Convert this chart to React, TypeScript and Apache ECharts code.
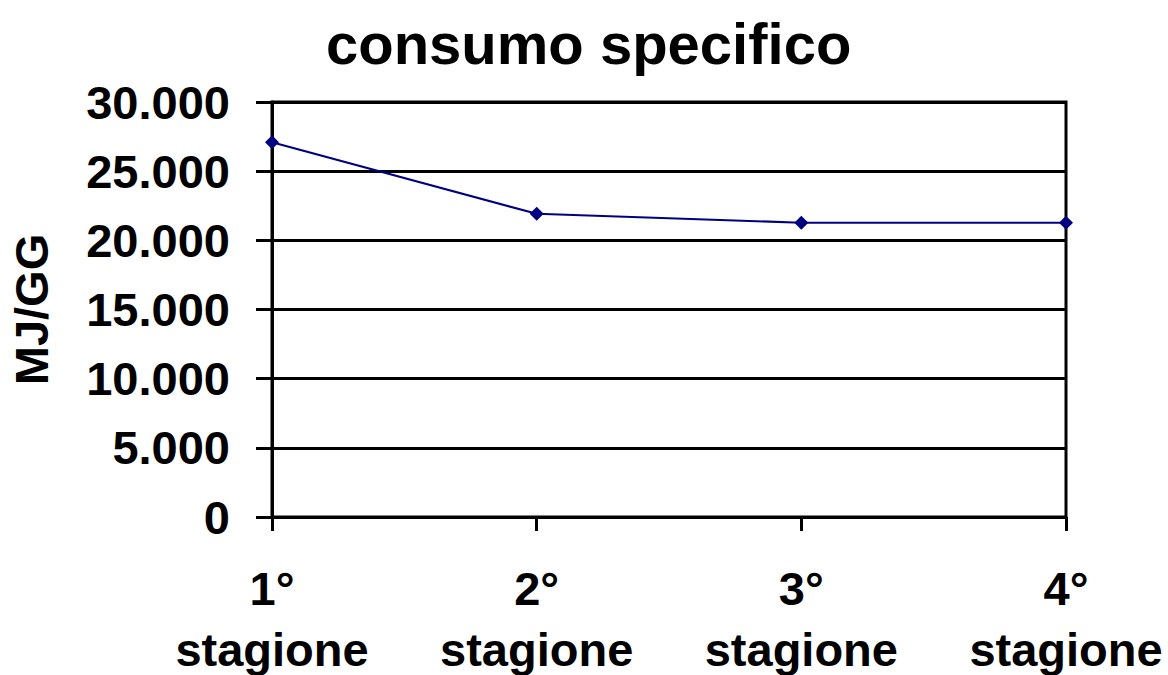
import React, { useEffect, useRef } from "react";
import * as echarts from "echarts";

const categories = ["1°\nstagione", "2°\nstagione", "3°\nstagione", "4°\nstagione"];
const consumo = [27090, 21920, 21270, 21270];
const yMin = 0;
const yMax = 30000;
const yStep = 5000;

const FONT = "'Liberation Sans', Arial, sans-serif";

function fmt(v: number): string {
  return String(Math.round(v)).replace(/\B(?=(\d{3})+(?!\d))/g, ".");
}

export default function App() {
  const ref = useRef<HTMLDivElement>(null);
  useEffect(() => {
    if (!ref.current) return;
    const chart = echarts.init(ref.current, undefined, { renderer: "svg" });
    chart.setOption({
      animation: false,
      backgroundColor: "#ffffff",
      title: {
        text: "consumo specifico",
        left: 321,
        top: 9,
        textStyle: { fontFamily: FONT, fontWeight: "bold", fontSize: 58, color: "#000" },
      },
      grid: {
        left: 272,
        right: 102,
        top: 102,
        bottom: 158,
        containLabel: false,
        outerBoundsMode: "none",
        show: true,
        borderColor: "#000",
        borderWidth: 3,
        backgroundColor: "transparent",
      },
      xAxis: {
        type: "category",
        data: categories,
        boundaryGap: false,
        axisLine: { lineStyle: { color: "#000", width: 3 } },
        axisTick: { show: true, length: 14, interval: 0, lineStyle: { color: "#000", width: 3 } },
        axisLabel: {
          interval: 0,
          margin: 41,
          fontFamily: FONT,
          fontWeight: "bold",
          fontSize: 47,
          lineHeight: 61,
          color: "#000",
        },
        splitLine: { show: false },
      },
      yAxis: {
        type: "value",
        min: yMin,
        max: yMax,
        interval: yStep,
        name: "MJ/GG",
        nameLocation: "middle",
        nameRotate: 90,
        nameGap: 217,
        nameTextStyle: { fontFamily: FONT, fontWeight: "bold", fontSize: 47, color: "#000" },
        axisLine: { show: true, lineStyle: { color: "#000", width: 3 } },
        axisTick: { show: true, length: 16, lineStyle: { color: "#000", width: 3 } },
        axisLabel: {
          margin: 42,
          formatter: (v: number) => fmt(v),
          fontFamily: FONT,
          fontWeight: "bold",
          fontSize: 47,
          color: "#000",
        },
        splitLine: { show: true, lineStyle: { color: "#000", width: 3 } },
      },
      series: [
        {
          type: "line",
          data: consumo,
          symbol: "diamond",
          symbolSize: 14,
          lineStyle: { color: "#000080", width: 2.2 },
          itemStyle: { color: "#000080" },
        },
      ],
    });
    return () => chart.dispose();
  }, []);
  return (
    <div
      ref={ref}
      style={{ position: "fixed", left: 0, top: 0, width: 1168, height: 675, background: "#fff" }}
    />
  );
}
